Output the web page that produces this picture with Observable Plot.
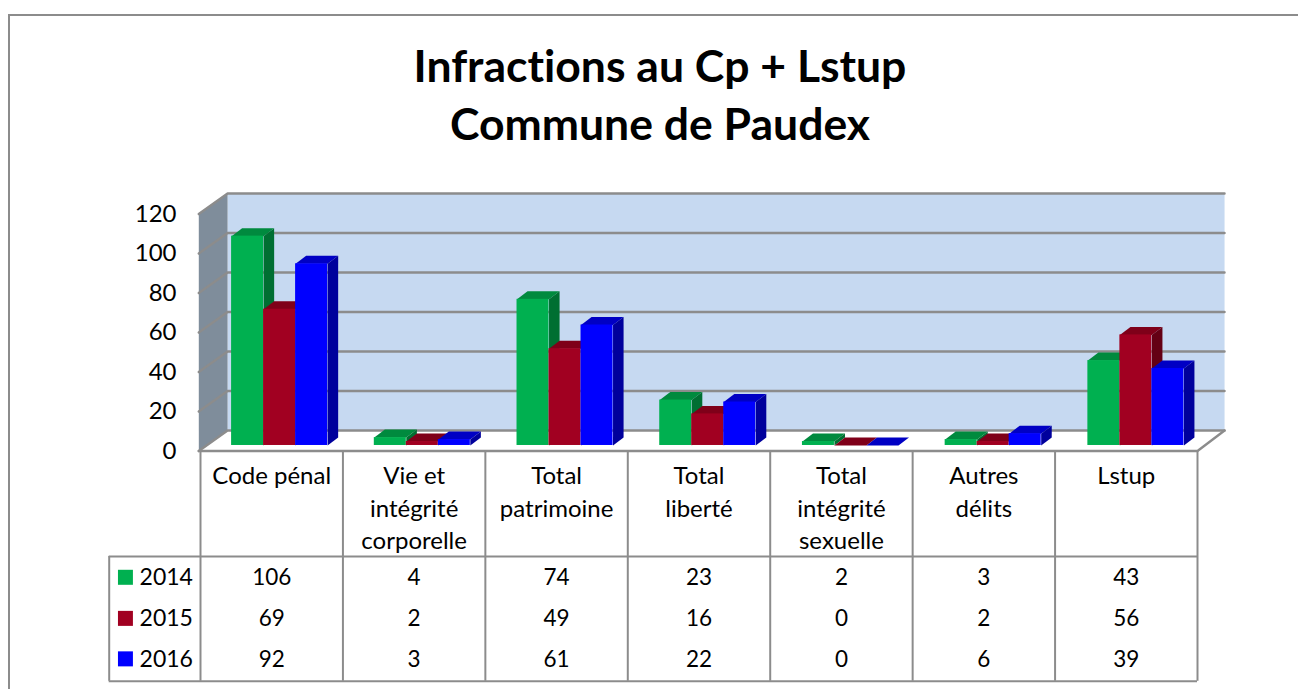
<!DOCTYPE html>
<html><head><meta charset="utf-8">
<script src="https://cdn.jsdelivr.net/npm/d3@7"></script>
<script src="https://cdn.jsdelivr.net/npm/@observablehq/plot@0.6"></script>
<style>
html,body{margin:0;padding:0;background:#fff;overflow:hidden}
#wrap{position:relative;width:1298px;height:689px;overflow:hidden}
#frame{position:absolute;left:8px;top:14px;width:1400px;height:800px;border:2px solid #8c8c8c;box-sizing:border-box;pointer-events:none}
#title{height:170px;box-sizing:border-box;padding-top:36px;padding-left:22px;text-align:center;font:700 44.5px/58px Lato,sans-serif;font-variant-ligatures:none;color:#000}
svg{display:block;font-variant-ligatures:none}
</style></head><body>
<div id="wrap"><div id="title">Infractions au Cp + Lstup<br>Commune de Paudex</div><div id="chart"></div><div id="frame"></div></div>
<script>
const categories = ["Code pénal","Vie et\nintégrité\ncorporelle","Total\npatrimoine","Total\nliberté","Total\nintégrité\nsexuelle","Autres\ndélits","Lstup"];
const years = ["2014","2015","2016"];
const values2014 = [106,4,74,23,2,3,43];
const values2015 = [69,2,49,16,0,2,56];
const values2016 = [92,3,61,22,0,6,39];
const seriesValues = [values2014,values2015,values2016];
const frontColors = ["#00B050","#A10021","#0000FF"];
const topColors = ["#008A3E","#7F0019","#0000C4"];
const sideColors = ["#006F32","#640014","#00009C"];
const yTicks = [0,20,40,60,80,100,120];

// oblique depth, expressed in scale units
const depthX = 0.19, depthY = 10.35;
const barStart = 0.167, barStep = 1.002, barW = 0.2247, barFront = 0.27, barBack = 0.66;
const P = (x,y,d)=>({x:x+d*depthX,y:y+d*depthY});
const poly = (id,fill,pts)=>pts.map(p=>({id,fill,...p}));
const polyMark = (polys,o={})=>Plot.line(polys.flat(),{x:"x",y:"y",z:"id",fill:"fill",stroke:"none",curve:"linear",...o});
const gridMark = (segs)=>Plot.line(segs.flat(),{x:"x",y:"y",z:"id",stroke:"#8c8c8c",strokeWidth:2.4,curve:"linear"});

const nCat = categories.length, yMax = 120;
const wall = [
  poly("back","#C6D9F1",[P(0,0,1),P(nCat,0,1),P(nCat,yMax,1),P(0,yMax,1)]),
  poly("left","#7F8D9B",[P(-0.012,0,0),P(0,0,1),P(0,yMax,1),P(-0.012,yMax,0)])
];
const grid = yTicks.map(t=>poly("g"+t,null,[P(-0.012,t,0),P(0,t,1),P(nCat,t,1)]));
const floorEdge = [poly("fe",null,[P(-0.012,0,0),P(nCat,0,0),P(nCat,0,1)])];

const barMarks = seriesValues.flatMap((vals,s)=>{
  const rows = vals.map((v,i)=>({i,v,x0:i*barStep+barStart+s*barW,x1:i*barStep+barStart+(s+1)*barW}));
  const tops = rows.map(r=>poly(`t${s}-${r.i}`,topColors[s],[P(r.x0,r.v,barFront),P(r.x1,r.v,barFront),P(r.x1,r.v,barBack),P(r.x0,r.v,barBack)]));
  const sides = rows.map(r=>poly(`s${s}-${r.i}`,sideColors[s],[P(r.x1,0,barFront),P(r.x1,0,barBack),P(r.x1,r.v,barBack),P(r.x1,r.v,barFront)]));
  return [
    polyMark(tops), polyMark(sides),
    Plot.rect(rows,{x1:r=>P(r.x0,0,barFront).x,x2:r=>P(r.x1,0,barFront).x,y1:()=>P(0,0,barFront).y,y2:r=>P(0,r.v,barFront).y,fill:frontColors[s]})
  ];
});

// data table, in scale units below the zero line
const tableTop=-53.4, tableBottom=-116.6, tableLeft=-0.641, catTextTop=-5;
const rowY=[-64.2,-85,-105.5];
const tblStroke={stroke:"#8c8c8c",strokeWidth:2};
const colIdx=d3.range(nCat+1);
const cells=seriesValues.flatMap((vals,s)=>vals.map((v,i)=>({x:i+0.5,y:rowY[s],t:String(v)})));
const font={fontFamily:"Lato, sans-serif"};

const chart = Plot.plot({
  width:1298,height:519,
  marginLeft:200,marginRight:101,marginTop:43.5,marginBottom:238.5,
  x:{domain:[0,nCat],axis:null},
  y:{domain:[0,yMax],axis:null},
  color:{type:"identity"},
  style:{background:"transparent",fontFamily:"Lato, sans-serif",fontSize:"21px",color:"#000",overflow:"visible",maxWidth:"none"},
  marks:[
    polyMark(wall),
    gridMark(grid),
    gridMark(floorEdge),
    ...barMarks,
    Plot.axisY({ticks:yTicks,tickSize:0,tickPadding:24,label:null,tickFormat:d=>String(d),fontSize:24,...font}),
    Plot.ruleX(colIdx,{x:d=>d,y1:0,y2:tableBottom,...tblStroke}),
    Plot.ruleX([tableLeft],{x:d=>d,y1:tableTop,y2:tableBottom,...tblStroke}),
    Plot.ruleY([tableTop,tableBottom],{y:d=>d,x1:tableLeft,x2:nCat,...tblStroke}),
    Plot.text(categories,{x:(d,i)=>i+0.5,y:()=>catTextTop,text:d=>d,lineAnchor:"top",lineHeight:1.36,fontSize:24,...font}),
    Plot.text(cells,{x:"x",y:"y",text:"t",fontSize:22.5,...font}),
    Plot.rect(years,{x1:()=>-0.576,x2:()=>-0.471,y1:(d,i)=>rowY[i]-3.8,y2:(d,i)=>rowY[i]+3.8,fill:(d,i)=>frontColors[i]}),
    Plot.text(years,{x:()=>-0.428,y:(d,i)=>rowY[i],text:d=>d,textAnchor:"start",fontSize:23,...font})
  ]
});
document.getElementById("chart").append(chart);
</script></body></html>
